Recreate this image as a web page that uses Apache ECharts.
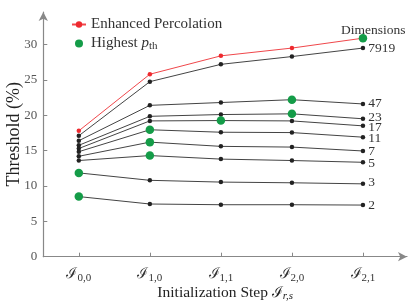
<!DOCTYPE html>
<html><head><meta charset="utf-8">
<script src="https://cdn.jsdelivr.net/npm/echarts@6/dist/echarts.min.js"></script>
<style>html,body{margin:0;padding:0;background:#fff}#c{width:415px;height:308px}</style>
</head><body><div id="c"></div>
<script>
const steps = ['0,0','1,0','1,1','2,0','2,1'];
const yTicks = [0,5,10,15,20,25,30];
const enhanced = [17.8, 25.8, 28.4, 29.5, 30.9];
const dimNames = ['7919','47','23','17','11','7','5','3','2'];
const dim7919 = [17.1, 24.75, 27.2, 28.3, 29.5];
const dim47 = [16.4, 21.4, 21.8, 22.2, 21.6];
const dim23 = [15.75, 19.85, 20.1, 20.2, 19.5];
const dim17 = [15.3, 19.2, 19.25, 19.2, 18.5];
const dim11 = [14.85, 17.95, 17.6, 17.55, 16.9];
const dim7 = [14.2, 16.2, 15.6, 15.5, 14.95];
const dim5 = [13.6, 14.3, 13.8, 13.6, 13.35];
const dim3 = [11.85, 10.8, 10.55, 10.45, 10.3];
const dim2 = [8.5, 7.45, 7.35, 7.35, 7.3];
const dimData = [dim7919, dim47, dim23, dim17, dim11, dim7, dim5, dim3, dim2];
// index of the step with the highest p_th, per dimension (7919 uses the enhanced curve)
const highestIdx = [4, 3, 3, 2, 1, 1, 1, 0, 0];

const labelOffsets = {'7919':[0,0],'47':[0,0],'23':[0,-1],'17':[0,2],'11':[0,1],'7':[0,0],'5':[0,1],'3':[0,-1],'2':[0,0]};
const FONT = 'Liberation Serif';
const SCRIPT = 'DejaVu Serif';

const highestPts = highestIdx.map((k, i) => i === 0 ? [k, enhanced[k]] : [k, dimData[i][k]]);

const series = [];
dimData.forEach((d, i) => {
  const name = dimNames[i];
  series.push({
    type: 'line', name: name,
    data: d.map((v, k) => [k, v]),
    symbol: 'circle', symbolSize: 4.5,
    itemStyle: {color: '#222'},
    lineStyle: {color: '#444', width: 1},
    z: 2,
    label: {show: true, position: 'right', distance: 3, offset: labelOffsets[name],
      fontFamily: FONT, fontSize: 13.5, color: '#333',
      formatter: p => p.dataIndex === 4 ? name : ''},
    animation: false
  });
});
series.push({
  type: 'line', name: 'Enhanced Percolation',
  data: enhanced.map((v, k) => [k, v]),
  symbol: 'circle', symbolSize: 4.5,
  itemStyle: {color: '#ee2a2f'},
  lineStyle: {color: '#f0474b', width: 1},
  z: 3, animation: false
});
series.push({
  type: 'scatter', name: 'Highest',
  data: highestPts, symbolSize: 8.5,
  itemStyle: {color: '#149c48', opacity: 1},
  z: 5, animation: false
});

const chart = echarts.init(document.getElementById('c'), null, {renderer: 'canvas'});
chart.setOption({
  backgroundColor: '#fff',
  animation: false,
  title: {text: 'Dimensions', left: 336, top: 18,
    textStyle: {fontFamily: FONT, fontSize: 13.5, fontWeight: 'normal', color: '#333'}},
  legend: {
    orient: 'vertical', left: 66, top: 12, itemGap: 4, itemWidth: 14, itemHeight: 8,
    data: ['Enhanced Percolation', 'Highest'],
    textStyle: {fontFamily: FONT, fontSize: 15, color: '#333',
      rich: {i: {fontFamily: FONT, fontStyle: 'italic', fontSize: 15, color: '#333'},
             sub: {fontFamily: FONT, fontSize: 11, color: '#333', padding: [6, 0, 0, 0]}}},
    formatter: n => n === 'Highest' ? 'Highest {i|p}{sub|th}' : n
  },
  grid: {left: 43.3, right: 8, top: 12, bottom: 51.3, containLabel: false, outerBoundsMode: 'none'},
  xAxis: {
    type: 'value', min: -0.5, max: 4.62,
    name: 'Initialization Step {s|ℐ}{sub|r,s}', nameLocation: 'middle', nameGap: 27, nameMoveOverlap: false,
    nameTextStyle: {fontFamily: FONT, fontSize: 15.5, color: '#222',
      rich: {s: {fontFamily: SCRIPT, fontSize: 15, color: '#222'},
             sub: {fontFamily: FONT, fontStyle: 'italic', fontSize: 11, color: '#222', padding: [7, 0, 0, 0]}}},
    axisLine: {onZero: false, lineStyle: {color: '#888', width: 1.2}, symbol: ['none', 'arrow'], symbolSize: [7, 9]},
    axisTick: {show: true, inside: true, length: 4, lineStyle: {color: '#888'}, customValues: [0,1,2,3,4]},
    axisLabel: {customValues: [0,1,2,3,4], margin: 8,
      formatter: v => '{s|ℐ}{sub|' + steps[Math.round(v)] + '}',
      rich: {s: {fontFamily: SCRIPT, fontSize: 15, color: '#333'},
             sub: {fontFamily: FONT, fontSize: 11, color: '#333', padding: [8, 0, 0, 0]}}},
    splitLine: {show: false}
  },
  yAxis: {
    type: 'value', min: 0, max: 34.6,
    name: 'Threshold (%)', nameLocation: 'middle', nameGap: 20, nameMoveOverlap: false,
    nameTextStyle: {fontFamily: FONT, fontSize: 18, color: '#222'},
    axisLine: {show: true, onZero: false, lineStyle: {color: '#888', width: 1.2}, symbol: ['none', 'arrow'], symbolSize: [7, 9]},
    axisTick: {show: true, inside: true, length: 4, lineStyle: {color: '#888'}, customValues: yTicks},
    axisLabel: {customValues: yTicks, margin: 6, fontFamily: FONT, fontSize: 13, color: '#555'},
    splitLine: {show: false}
  },
  series: series
});
</script></body></html>
